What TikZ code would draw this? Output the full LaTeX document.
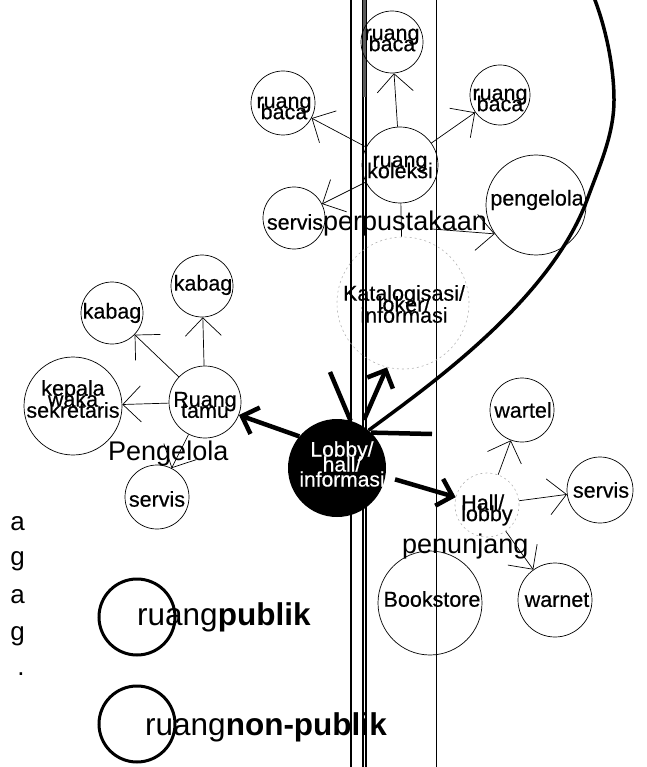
\documentclass[tikz,border=0pt]{standalone}
\usepackage{fontspec}
\setmainfont{Liberation Sans}
\newfontfamily\roomfam{Liberation Sans}[FakeBold=0.5]
\usetikzlibrary{arrows.meta}
\newcommand\roomfont{\roomfam\fontsize{21.5}{11}\selectfont}
\newcommand\lobbyfont{\roomfam\fontsize{21}{15}\selectfont}
\begin{document}
\lineskiplimit=-100pt\relax
\lineskip=0pt\relax
\begin{tikzpicture}[x=1pt,y=-1pt,
  room/.style={circle,draw,line width=0.7pt,inner sep=0pt,minimum size=#1},
  faint/.style={circle,draw=gray!60,dash pattern=on 2pt off 3pt,line width=0.6pt,inner sep=0pt,minimum size=#1},
  lbl/.style={inner sep=0pt,align=center,font=\roomfont},
  big/.style={inner sep=0pt,anchor=base west,font=\fontsize{27}{27}\selectfont},
  link/.style={line width=0.7pt,-{Straight Barb[length=18pt,width=36pt]}},
  plain/.style={line width=0.7pt},
  heavy/.style={line width=4.5pt,-{Straight Barb[length=14pt,width=28pt]}},
  heavyline/.style={line width=4.5pt},
  wall/.style={line width=1.2pt},
  legend/.style={circle,draw,line width=3pt,inner sep=0pt,minimum size=76pt},
  letter/.style={inner sep=0pt,anchor=base,font=\fontsize{26}{26}\selectfont}]
\useasboundingbox (0,0) rectangle (646,767);

% walls
\draw[wall] (351,0) -- (351,767);
\draw[wall] (363,0) -- (363,767);
\draw[wall] (366,0) -- (366,767);
\draw[wall] (436.5,0) -- (436.5,767);
\draw[line width=3.5pt,gray!70!black] (364.5,0) -- (364.5,97);

% rooms
\node[room=62pt] (bacaT) at (392,42) {};
\node[room=64pt] (bacaL) at (283,103) {};
\node[room=60pt] (bacaR) at (500,95) {};
\node[room=76pt] (koleksi) at (400,165) {};
\node[room=62pt] (servisA) at (294,218) {};
\node[room=100pt] (pengelolaA) at (536,205) {};
\node[faint=132pt] (katalog) at (403,303) {};
\node[room=62pt] (kabagR) at (202,286) {};
\node[room=62pt] (kabagL) at (112,313) {};
\node[room=98pt] (kepala) at (73,406) {};
\node[room=72pt] (tamu) at (205,402) {};
\node[room=64pt] (servisB) at (157,497) {};
\node[circle,fill=black,inner sep=0pt,minimum size=98pt] (lobby) at (337,468) {};
\node[faint=64pt] (hall) at (487,505) {};
\node[room=64pt] (wartel) at (522,410) {};
\node[room=66pt] (servisC) at (600,490) {};
\node[room=74pt] (warnet) at (555,600) {};
\node[room=104pt] (bookstore) at (430,603) {};

% legend circles
\node[legend] (legPub) at (137,617) {};
\node[legend] (legNon) at (137,724) {};

% thin connectors
\draw[link] (koleksi) -- (bacaT);
\draw[link] (koleksi) -- (bacaL);
\draw[link] (koleksi) -- (bacaR);
\draw[link] (koleksi) -- (servisA);
\draw[plain] (koleksi) -- (katalog);
\coordinate (kp) at (432,229);
\draw[link] (kp) -- (pengelolaA.215);
\draw[link] (tamu) -- (kabagR);
\draw[link] (tamu) -- (kabagL);
\draw[link] (tamu) -- (kepala);
\draw[link] (tamu) -- (servisB);
\draw[link] (hall) -- (wartel);
\draw[link] (hall) -- (servisC);
\draw[link] (hall) -- (warnet);

% heavy connectors
\draw[heavy] (lobby.140) -- (tamu.-21);
\draw[heavy,shorten <=6pt] (lobby.60) -- (katalog.256);
\draw[heavy,shorten <=10pt] (lobby.-10) -- (hall.166);
\coordinate (ul) at (330,372);
\draw[heavyline] (lobby.74) -- (ul);
\coordinate (hr) at (432,434);
\draw[heavyline] (lobby.46) -- (hr);
\coordinate (ctop) at (593,-5);
\draw[line width=3.5pt] (lobby.50) .. controls (430,385) and (550,300) .. (587,200)
  .. controls (599,167) and (614,135) .. (614,100)
  .. controls (614,65) and (605,25) .. (ctop);

% labels
\node[lbl] (tBacaT) at (392,40) {ruang\\baca};
\node[lbl] (tBacaL) at (284,108) {ruang\\baca};
\node[lbl] (tBacaR) at (500,100) {ruang\\baca};
\node[lbl] (tKoleksi) at (400,167) {ruang\\koleksi};
\node[lbl] (tServisA) at (295,222) {servis};
\node[lbl] (tPengelolaA) at (537,200) {pengelola};
\node[lbl] (tKatalog) at (404,304) {Katalogisasi/\\loker/\\informasi};
\node[lbl] (tTamu) at (205,405) {Ruang\\tamu};
\node[lbl] (tKabagR) at (203,285) {kabag};
\node[lbl] (tKabagL) at (112,313) {kabag};
\node[lbl] (tKepala) at (73,399) {kepala\\waka\\sekretaris};
\node[lbl] (tServisB) at (157,499) {servis};
\node[lbl] (tWartel) at (523,410) {wartel};
\node[lbl] (tServisC) at (601,490) {servis};
\node[lbl] (tWarnet) at (557,600) {warnet};
\node[lbl] (tBookstore) at (432,599) {Bookstore};
\node[lbl,align=left,anchor=west] (tHall) at (461,510) {Hall/\\lobby};
\node[inner sep=0pt,align=center,text=white,font=\lobbyfont] (tLobby) at (342,464) {Lobby/\\hall/\\informasi};

\node[big] (gPerpus) at (323,230) {perpustakaan};
\node[big] (gPengelola) at (108,460) {Pengelola};
\node[big] (gPenunjang) at (402,553) {penunjang};

\node[inner sep=0pt,anchor=base west,font=\fontsize{31.5}{31.5}\selectfont] (legPubT) at (137,625) {ruang\textbf{publik}};
\node[inner sep=0pt,anchor=base west,font=\fontsize{31.5}{31.5}\selectfont] (legNonT) at (145,735) {ruang\textbf{non-publik}};

\node[letter] (l1) at (17.5,530) {a};
\node[letter] (l2) at (17.5,565) {g};
\node[letter] (l3) at (17.5,603) {a};
\node[letter] (l4) at (17.5,640) {g};
\node[letter] (l5) at (21,675) {.};
\end{tikzpicture}
\end{document}
